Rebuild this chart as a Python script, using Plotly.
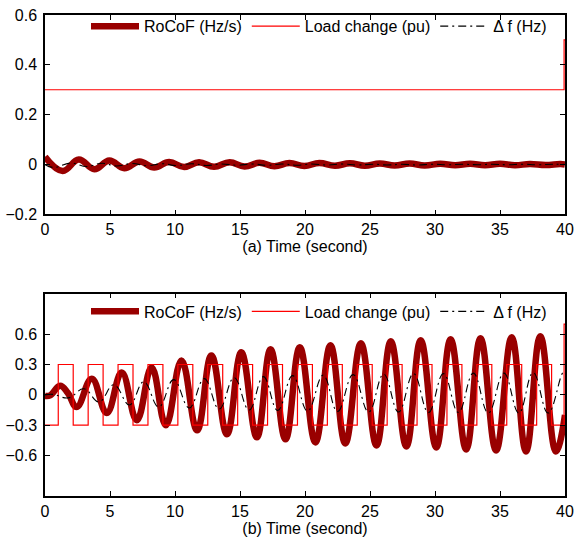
import plotly.graph_objects as go

# ---------------- data ----------------
# (a) step load: RoCoF / delta f extrema (time s, value)
a_rocof_t = [0, 1.36, 2.6, 3.8, 4.95, 6.1, 7.27, 8.4, 9.55, 10.7, 11.85, 13.0, 14.2, 15.35,
             16.5, 17.65, 18.8, 19.95, 21.1, 22.3, 23.45, 24.6, 25.75, 26.9, 28.05, 29.2,
             30.4, 31.55, 32.7, 33.85, 35.0, 36.15, 37.3, 38.5, 39.65, 40]
a_rocof_v = [0.031, -0.026, 0.020, -0.019, 0.016, -0.015, 0.012, -0.012, 0.010, -0.010,
             0.009, -0.009, 0.009, -0.008, 0.007, -0.007, 0.006, -0.006, 0.006, -0.005,
             0.005, -0.005, 0.004, -0.004, 0.004, -0.004, 0.003, -0.003, 0.003, -0.003,
             0.003, -0.003, 0.002, -0.002, 0.002, 0.0]
a_df_t = [0, 0.65, 2.0, 3.2, 4.4, 5.5, 6.7, 7.85, 9.0, 10.1, 11.3, 12.4, 13.6, 14.8, 15.9,
          17.1, 18.2, 19.4, 20.5, 21.7, 22.9, 24.0, 25.2, 26.3, 27.5, 28.6, 29.8, 31.0,
          32.1, 33.3, 34.4, 35.6, 36.7, 37.9, 39.1, 40]
a_df_v = [0.0, -0.012, 0.006, -0.008, 0.005, -0.006, 0.004, -0.005, 0.003, -0.004, 0.003,
          -0.004, 0.002, -0.003, 0.002, -0.003, 0.002, -0.003, 0.002, -0.002, 0.002, -0.002,
          0.001, -0.002, 0.001, -0.002, 0.001, -0.001, 0.001, -0.001, 0.001, -0.001, 0.001,
          -0.001, 0.001, 0.0]
a_load_t = [0, 39.93, 40]
a_load_v = [0.3, 0.5, 0.5]

# (b) periodic load: switch times and levels
b_load_t = [0, 1.02, 2.17, 3.32, 4.47, 5.62, 6.77, 7.92, 9.07, 10.22, 11.37, 12.52, 13.67,
            14.82, 15.97, 17.12, 18.27, 19.42, 20.57, 21.72, 22.87, 24.02, 25.17, 26.32,
            27.47, 28.62, 29.77, 30.92, 32.07, 33.22, 34.37, 35.52, 36.67, 37.82, 38.97,
            39.93, 40]
b_load_v = [-0.3, 0.3, -0.3, 0.3, -0.3, 0.3, -0.3, 0.3, -0.3, 0.3, -0.3, 0.3, -0.3, 0.3,
            -0.3, 0.3, -0.3, 0.3, -0.3, 0.3, -0.3, 0.3, -0.3, 0.3, -0.3, 0.3, -0.3, 0.3,
            -0.3, 0.3, -0.3, 0.3, -0.3, 0.3, -0.3, 0.7, 0.7]
b_rocof_t = [0, 0.4, 1.16, 1.75, 2.44, 3.6, 4.75, 5.9, 7.06, 8.2, 9.3, 10.5, 11.7, 12.8,
             14.0, 15.1, 16.3, 17.35, 18.5, 19.6, 20.8, 21.96, 23.1, 24.3, 25.5, 26.6,
             27.8, 28.9, 30.1, 31.2, 32.4, 33.5, 34.7, 35.9, 37.0, 38.1, 39.3, 40]
b_rocof_v = [-0.01, -0.005, 0.09, 0.02, -0.12, 0.16, -0.18, 0.22, -0.25, 0.27, -0.30, 0.34,
             -0.35, 0.39, -0.39, 0.42, -0.42, 0.45, -0.44, 0.47, -0.47, 0.49, -0.48, 0.51,
             -0.50, 0.53, -0.51, 0.54, -0.52, 0.55, -0.54, 0.56, -0.55, 0.57, -0.56, 0.58,
             -0.56, -0.2]
b_df_t = [0, 0.6, 1.8, 3.0, 4.15, 5.3, 6.5, 7.6, 8.75, 9.9, 11.1, 12.25, 13.4, 14.55, 15.7,
          16.8, 17.9, 19.05, 20.2, 21.4, 22.5, 23.7, 24.9, 26.05, 27.2, 28.35, 29.5, 30.65,
          31.8, 32.95, 34.1, 35.3, 36.45, 37.55, 38.7, 39.85, 40]
b_df_v = [0.0, 0.005, -0.03, 0.06, -0.07, 0.10, -0.10, 0.13, -0.12, 0.15, -0.13, 0.16,
          -0.14, 0.17, -0.15, 0.18, -0.155, 0.19, -0.16, 0.195, -0.165, 0.20, -0.17, 0.205,
          -0.17, 0.21, -0.175, 0.21, -0.175, 0.215, -0.18, 0.215, -0.18, 0.22, -0.18, 0.22,
          0.22]

x_ticks = [0, 5, 10, 15, 20, 25, 30, 35, 40]
a_yticks = [-0.2, 0, 0.2, 0.4, 0.6]
a_ytext = ["\u22120.2", "0", "0.2", "0.4", "0.6"]
b_yticks = [-0.6, -0.3, 0, 0.3, 0.6]
b_ytext = ["\u22120.6", "\u22120.3", "0", "0.3", "0.6"]

names = ["RoCoF (Hz/s)", "Load change (pu)", "\u0394 f (Hz)"]

# ---------------- styling ----------------
FONT = "Liberation Sans, Arial, Helvetica, sans-serif"
FS = 16
ROC = "#990000"
LOAD = "#ff0000"
DF = "#000000"

fig = go.Figure()

def add_set(rt, rv, lt, lv, dt, dv, xa, ya, leg):
    fig.add_trace(go.Scatter(x=rt, y=rv, mode="lines", name=names[0],
                             line=dict(color=ROC, width=6.5, shape="spline", smoothing=1.2),
                             xaxis=xa, yaxis=ya, legend=leg))
    fig.add_trace(go.Scatter(x=lt, y=lv, mode="lines", name=names[1],
                             line=dict(color=LOAD, width=1.2, shape="hv"),
                             xaxis=xa, yaxis=ya, legend=leg))
    fig.add_trace(go.Scatter(x=dt, y=dv, mode="lines", name=names[2],
                             line=dict(color=DF, width=1.1, shape="spline", smoothing=1.2,
                                       dash="8px,4px,2px,4px"),
                             xaxis=xa, yaxis=ya, legend=leg))

add_set(a_rocof_t, a_rocof_v, a_load_t, a_load_v, a_df_t, a_df_v, "x", "y", "legend")
add_set(b_rocof_t, b_rocof_v, b_load_t, b_load_v, b_df_t, b_df_v, "x2", "y2", "legend2")

axis_common = dict(showline=True, linecolor="black", linewidth=1.5, mirror="ticks",
                   ticks="inside", ticklen=5, tickwidth=1, tickcolor="black",
                   showgrid=False, zeroline=False, automargin=False,
                   tickfont=dict(family=FONT, size=FS, color="black"))

fig.update_layout(
    width=574, height=544,
    margin=dict(l=45, r=9, t=11, b=48),
    paper_bgcolor="white", plot_bgcolor="white",
    font=dict(family=FONT, size=FS, color="black"),
    xaxis=dict(axis_common, domain=[0, 1], range=[0, 40], tickvals=x_ticks, anchor="y",
               title=dict(text="(a) Time (second)", standoff=2,
                          font=dict(family=FONT, size=FS))),
    yaxis=dict(axis_common, domain=[0.5856, 1], range=[-0.2, 0.6001], tickvals=a_yticks,
               ticktext=a_ytext, anchor="x", ticklabelstandoff=3),
    xaxis2=dict(axis_common, domain=[0, 1], range=[0, 40], tickvals=x_ticks, anchor="y2",
                title=dict(text="(b) Time (second)", standoff=2,
                           font=dict(family=FONT, size=FS))),
    yaxis2=dict(axis_common, domain=[0, 0.4206], range=[-1, 1], tickvals=b_yticks,
                ticktext=b_ytext, anchor="x2", ticklabelstandoff=3),
    legend=dict(orientation="h", x=0.975, xanchor="right", y=1.012, yanchor="top",
                bgcolor="rgba(0,0,0,0)", font=dict(family=FONT, size=FS),
                itemwidth=48, tracegroupgap=0),
    legend2=dict(orientation="h", x=0.975, xanchor="right", y=0.419, yanchor="top",
                 bgcolor="rgba(0,0,0,0)", font=dict(family=FONT, size=FS),
                 itemwidth=48, tracegroupgap=0),
    showlegend=True,
)

fig.write_html("out.html")
